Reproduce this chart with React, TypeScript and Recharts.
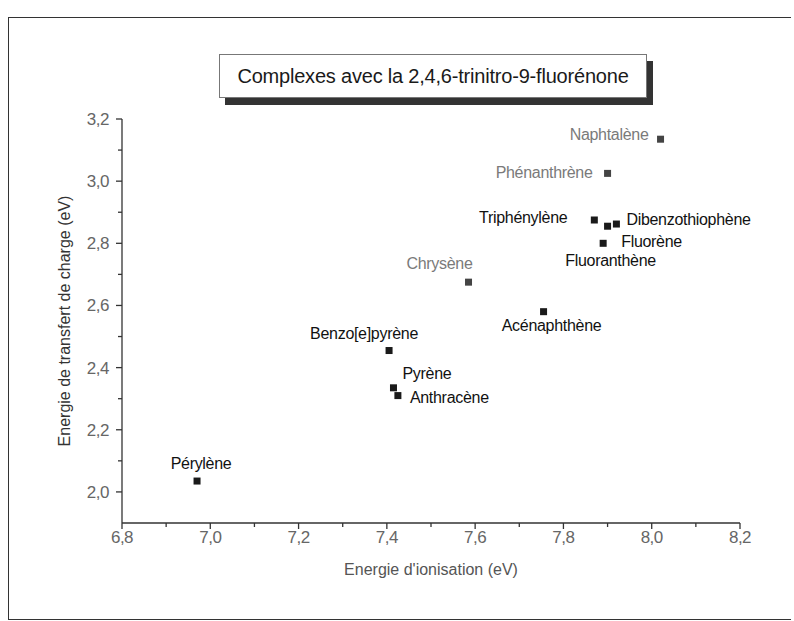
import React from 'react';
import { Scatter, ScatterChart, XAxis, YAxis } from 'recharts';

// Data
// =====================================
const COMPOUNDS = [
  'Naphtalène',
  'Phénanthrène',
  'Triphénylène',
  'Fluoranthène',
  'Dibenzothiophène',
  'Fluorène',
  'Chrysène',
  'Acénaphthène',
  'Benzo[e]pyrène',
  'Pyrène',
  'Anthracène',
  'Pérylène',
];
const IONISATION = [8.02, 7.9, 7.87, 7.9, 7.92, 7.89, 7.585, 7.755, 7.405, 7.415, 7.425, 6.97];
const TRANSFERT = [3.135, 3.025, 2.875, 2.855, 2.862, 2.8, 2.675, 2.58, 2.455, 2.335, 2.31, 2.035];

const X_TICKS = [6.8, 6.9, 7.0, 7.1, 7.2, 7.3, 7.4, 7.5, 7.6, 7.7, 7.8, 7.9, 8.0, 8.1, 8.2];
const Y_TICKS = [2.0, 2.1, 2.2, 2.3, 2.4, 2.5, 2.6, 2.7, 2.8, 2.9, 3.0, 3.1, 3.2];

const TITLE = 'Complexes avec la 2,4,6-trinitro-9-fluorénone';
const X_TITLE = "Energie d'ionisation (eV)";
const Y_TITLE = 'Energie de transfert de charge (eV)';

// labels printed in grey in the original
const GREY = ['Naphtalène', 'Phénanthrène', 'Chrysène'];

// where each label sits relative to its marker
const LABEL_POS: Record<string, { dx: number; dy: number; anchor: 'start' | 'middle' | 'end' }> = {
  'Naphtalène': { dx: -12, dy: -5, anchor: 'end' },
  'Phénanthrène': { dx: -15, dy: -1, anchor: 'end' },
  'Triphénylène': { dx: -27, dy: -3, anchor: 'end' },
  'Fluoranthène': { dx: 3, dy: 34, anchor: 'middle' },
  'Dibenzothiophène': { dx: 10, dy: -5, anchor: 'start' },
  'Fluorène': { dx: 18, dy: -2, anchor: 'start' },
  'Chrysène': { dx: -29, dy: -19, anchor: 'middle' },
  'Acénaphthène': { dx: 8, dy: 14, anchor: 'middle' },
  'Benzo[e]pyrène': { dx: -25, dy: -17, anchor: 'middle' },
  'Pyrène': { dx: 9, dy: -14, anchor: 'start' },
  'Anthracène': { dx: 12, dy: 2, anchor: 'start' },
  'Pérylène': { dx: 4, dy: -18, anchor: 'middle' },
};

const FONT = "'Liberation Sans', Arial, sans-serif";

const data = COMPOUNDS.map((name, i) => ({ name, x: IONISATION[i], y: TRANSFERT[i] }));

const fmt = (v: number) => v.toFixed(1).replace('.', ',');
const isMajor = (v: number) => Math.round(v * 10) % 2 === 0;

const XTick = (props: any) => {
  const { x, y, payload } = props;
  const major = isMajor(payload.value);
  return (
    <g>
      <line x1={x} x2={x} y1={y} y2={y + (major ? 6 : 4)} stroke="#333" strokeWidth={1.3} />
      {major && (
        <text x={x} y={y + 20} textAnchor="middle" fontSize={17} fill="#666" fontFamily={FONT} letterSpacing={-0.5}>
          {fmt(payload.value)}
        </text>
      )}
    </g>
  );
};

const YTick = (props: any) => {
  const { x, y, payload } = props;
  const major = isMajor(payload.value);
  return (
    <g>
      <line x1={x} x2={x - (major ? 6 : 4)} y1={y} y2={y} stroke="#333" strokeWidth={1.3} />
      {major && (
        <text x={x - 13} y={y} dy="0.35em" textAnchor="end" fontSize={17} fill="#666" fontFamily={FONT} letterSpacing={-0.5}>
          {fmt(payload.value)}
        </text>
      )}
    </g>
  );
};

const Marker = (props: any) => {
  const { cx, cy, payload } = props;
  const grey = GREY.includes(payload.name);
  const pos = LABEL_POS[payload.name];
  return (
    <g>
      <rect x={cx - 3.5} y={cy - 3.5} width={7} height={7} fill={grey ? '#444' : '#1a1a1a'} />
      <text
        x={cx + pos.dx}
        y={cy + pos.dy}
        dy="0.35em"
        textAnchor={pos.anchor}
        fontSize={16}
        letterSpacing={-0.3}
        fontFamily={FONT}
        fill={grey ? '#7a7a7a' : '#111'}
      >
        {payload.name}
      </text>
    </g>
  );
};

export default function App() {
  return (
    <div style={{ position: 'absolute', left: 0, top: 0, width: 794, height: 621, background: '#fff', overflow: 'hidden' }}>
      {/* page frame */}
      <div
        style={{
          position: 'absolute',
          left: 8,
          top: 17,
          width: 782,
          height: 601,
          border: '1.5px solid #333',
          borderRight: 'none',
        }}
      />
      <ScatterChart
        width={794}
        height={621}
        margin={{ top: 119, right: 54, bottom: 38, left: 62 }}
        style={{ position: 'absolute', left: 0, top: 0 }}
      >
        <XAxis
          type="number"
          dataKey="x"
          domain={[6.8, 8.2]}
          ticks={X_TICKS}
          interval={0}
          height={60}
          tickSize={0}
          tickMargin={0}
          tickLine={false}
          tick={<XTick />}
          stroke="#333"
          strokeWidth={1.3}
          label={{ value: X_TITLE, position: 'insideBottom', offset: 8, fill: '#555', fontSize: 16, fontFamily: FONT }}
        />
        <YAxis
          type="number"
          dataKey="y"
          domain={[1.9, 3.2]}
          ticks={Y_TICKS}
          interval={0}
          width={60}
          tickSize={0}
          tickMargin={0}
          tickLine={false}
          tick={<YTick />}
          stroke="#333"
          strokeWidth={1.3}
          label={{ value: Y_TITLE, angle: -90, position: 'insideLeft', offset: 2, fill: '#333', fontSize: 16, fontFamily: FONT, style: { textAnchor: 'middle' } }}
        />
        <Scatter data={data} shape={<Marker />} isAnimationActive={false} />
      </ScatterChart>
      {/* title box with drop shadow */}
      <div
        style={{
          position: 'absolute',
          left: 219,
          top: 54,
          width: 428,
          height: 44,
          boxSizing: 'border-box',
          border: '1px solid #777',
          background: '#fff',
          boxShadow: '6px 7px 0 #333',
          display: 'flex',
          alignItems: 'center',
          justifyContent: 'center',
          whiteSpace: 'nowrap',
          fontFamily: FONT,
          fontSize: 20,
          letterSpacing: -0.2,
          color: '#1a1a1a',
        }}
      >
        {TITLE}
      </div>
    </div>
  );
}
